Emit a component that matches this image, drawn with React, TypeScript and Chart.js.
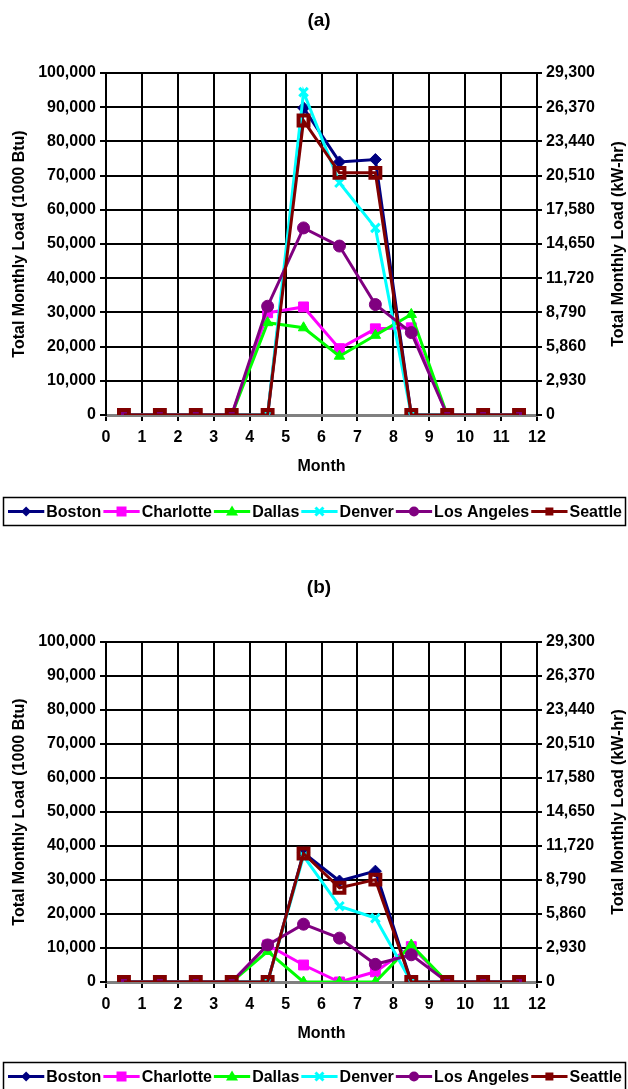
import React, { useEffect, useRef } from 'react';
import { Chart, registerables } from 'chart.js';

Chart.register(...registerables);

// ---------- data ----------
const monthPositions = [0.5, 1.5, 2.5, 3.5, 4.5, 5.5, 6.5, 7.5, 8.5, 9.5, 10.5, 11.5];
const monthTicks = [0, 1, 2, 3, 4, 5, 6, 7, 8, 9, 10, 11, 12];
const leftTicks = [0, 10000, 20000, 30000, 40000, 50000, 60000, 70000, 80000, 90000, 100000];
const rightTicks = [0, 2930, 5860, 8790, 11720, 14650, 17580, 20510, 23440, 26370, 29300];

const seriesNames = ['Boston', 'Charlotte', 'Dallas', 'Denver', 'Los Angeles', 'Seattle'];
const seriesColors = ['#000080', '#FF00FF', '#00FF00', '#00FFFF', '#800080', '#800000'];
const seriesMarkers = ['rectRot', 'rect', 'triangle', 'crossRot', 'circle', 'rectHollow'];

// Chart (a)
const bostonA = [0, 0, 0, 0, 0, 89800, 74000, 74700, 0, 0, 0, 0];
const charlotteA = [0, 0, 0, 0, 29900, 31600, 19400, 25200, 25500, 0, 0, 0];
const dallasA = [0, 0, 0, 0, 27000, 25500, 17200, 23300, 29400, 0, 0, 0];
const denverA = [0, 0, 0, 0, 0, 94400, 67900, 54700, 0, 0, 0, 0];
const losAngelesA = [0, 0, 0, 0, 31800, 54700, 49400, 32300, 24100, 0, 0, 0];
const seattleA = [0, 0, 0, 0, 0, 86100, 70800, 70800, 0, 0, 0, 0];

// Chart (b)
const bostonB = [0, 0, 0, 0, 0, 38000, 29700, 32600, 0, 0, 0, 0];
const charlotteB = [0, 0, 0, 0, 10900, 5000, 0, 3000, 10400, 0, 0, 0];
const dallasB = [0, 0, 0, 0, 9000, 0, 0, 0, 10900, 0, 0, 0];
const denverB = [0, 0, 0, 0, 0, 37000, 22300, 18800, 0, 0, 0, 0];
const losAngelesB = [0, 0, 0, 0, 10900, 17000, 12900, 5200, 8000, 0, 0, 0];
const seattleB = [0, 0, 0, 0, 0, 37800, 27700, 30100, 0, 0, 0, 0];

const seriesA = [bostonA, charlotteA, dallasA, denverA, losAngelesA, seattleA];
const seriesB = [bostonB, charlotteB, dallasB, denverB, losAngelesB, seattleB];

const titleA = '(a)';
const titleB = '(b)';
const xTitle = 'Month';
const yTitle = 'Total Monthly Load (1000 Btu)';
const y2Title = 'Total Monthly Load (kW-hr)';

const FONT = '"Liberation Sans", Arial, Helvetica, sans-serif';

// ---------- helpers ----------
function fmt(v: number) {
  return Math.round(v).toLocaleString('en-US');
}

function drawMarker(ctx: CanvasRenderingContext2D, style: string, x: number, y: number, color: string) {
  ctx.save();
  ctx.fillStyle = color;
  ctx.strokeStyle = color;
  ctx.lineWidth = 3;
  ctx.beginPath();
  if (style === 'rectRot') {
    const r = 5;
    ctx.moveTo(x - r, y);
    ctx.lineTo(x, y - r);
    ctx.lineTo(x + r, y);
    ctx.lineTo(x, y + r);
    ctx.closePath();
    ctx.fill();
  } else if (style === 'rect') {
    ctx.rect(x - 5, y - 5, 10, 10);
    ctx.fill();
  } else if (style === 'triangle') {
    ctx.moveTo(x - 6, y + 4);
    ctx.lineTo(x, y - 6);
    ctx.lineTo(x + 6, y + 4);
    ctx.closePath();
    ctx.fill();
  } else if (style === 'crossRot') {
    const r = 4;
    ctx.moveTo(x - r, y - r);
    ctx.lineTo(x + r, y + r);
    ctx.moveTo(x + r, y - r);
    ctx.lineTo(x - r, y + r);
    ctx.stroke();
  } else if (style === 'circle') {
    ctx.arc(x, y, 5, 0, Math.PI * 2);
    ctx.fill();
  } else {
    ctx.rect(x - 4, y - 4, 8, 8);
    ctx.fill();
  }
  ctx.restore();
}

function makePlugin(title: string, legendTop: number, legendHeight: number) {
  return {
    id: 'customText',
    afterDraw(chart: any) {
      const ctx: CanvasRenderingContext2D = chart.ctx;
      const area = chart.chartArea;
      const W = chart.width;
      ctx.save();
      ctx.fillStyle = '#000';
      ctx.textBaseline = 'middle';
      ctx.textAlign = 'center';
      // title
      ctx.font = `bold 19px ${FONT}`;
      ctx.fillText(title, 319, 21);
      // x title
      ctx.font = `bold 16px ${FONT}`;
      ctx.fillText(xTitle, (area.left + area.right) / 2, 467);
      // y titles
      const midY = (area.top + area.bottom) / 2;
      ctx.save();
      ctx.translate(20, midY);
      ctx.rotate(-Math.PI / 2);
      ctx.fillText(yTitle, 0, 0);
      ctx.restore();
      ctx.save();
      ctx.translate(619, midY);
      ctx.rotate(-Math.PI / 2);
      ctx.fillText(y2Title, 0, 0);
      ctx.restore();

      // legend
      const bx = 3, bw = W - 6;
      ctx.lineWidth = 1.5;
      ctx.strokeStyle = '#000';
      ctx.strokeRect(bx + 0.5, legendTop + 0.5, bw, legendHeight);
      ctx.font = `bold 16px ${FONT}`;
      ctx.textAlign = 'left';
      const widths = seriesNames.map((n) => ctx.measureText(n).width);
      const totalText = widths.reduce((a, b) => a + b, 0);
      const startX = 8;
      const avail = W - 4 - startX;
      const extra = (avail - totalText) / seriesNames.length;
      const lineLen = extra - 4;
      const ly = legendTop + legendHeight / 2 + 0.5;
      let x = startX;
      seriesNames.forEach((name, i) => {
        ctx.strokeStyle = seriesColors[i];
        ctx.lineWidth = 3;
        ctx.beginPath();
        ctx.moveTo(x, ly);
        ctx.lineTo(x + lineLen, ly);
        ctx.stroke();
        drawMarker(ctx, seriesMarkers[i], x + lineLen / 2, ly, seriesColors[i]);
        ctx.fillStyle = '#000';
        ctx.fillText(name, x + lineLen + 2, ly + 1);
        x += lineLen + 4 + widths[i];
      });
      ctx.restore();
    },
  };
}

function buildDatasets(series: number[][]) {
  return series.map((vals, i) => {
    const marker = seriesMarkers[i];
    const hollow = marker === 'rectHollow';
    const style = hollow ? 'rect' : marker;
    let radius = 6;
    if (style === 'rect') radius = 7;
    if (style === 'triangle') radius = 6;
    if (style === 'crossRot') radius = 6;
    return {
      label: seriesNames[i],
      data: monthPositions.map((m, j) => ({ x: m, y: vals[j] })),
      borderColor: seriesColors[i],
      backgroundColor: hollow ? 'rgba(0,0,0,0)' : seriesColors[i],
      pointBackgroundColor: hollow ? 'rgba(0,0,0,0)' : seriesColors[i],
      pointBorderColor: seriesColors[i],
      pointBorderWidth: hollow ? 4 : style === 'crossRot' ? 3 : 1,
      pointStyle: style,
      pointRadius: radius,
      borderWidth: 3,
      tension: 0,
      fill: false,
      order: seriesNames.length - i,
      yAxisID: 'y',
    };
  });
}

function makeConfig(series: number[][], title: string, topPad: number, xHeight: number, legendTop: number, legendHeight: number): any {
  const tickFont = { family: FONT, size: 16, weight: 'bold' as const };
  return {
    type: 'line',
    data: { datasets: buildDatasets(series) },
    options: {
      responsive: false,
      animation: false,
      devicePixelRatio: 1,
      layout: { padding: { top: topPad, left: 0, right: 0, bottom: 0 } },
      plugins: { legend: { display: false }, title: { display: false }, tooltip: { enabled: false } },
      scales: {
        x: {
          type: 'linear',
          min: 0,
          max: 12,
          afterBuildTicks: (s: any) => { s.ticks = monthTicks.map((v) => ({ value: v })); },
          afterFit: (s: any) => { s.height = xHeight; },
          ticks: { font: tickFont, color: '#000', padding: 7, maxRotation: 0, autoSkip: false, callback: (v: number) => String(v) },
          grid: { color: '#000', lineWidth: 2, tickLength: 6 },
          border: { color: '#808080', width: 3 },
        },
        y: {
          position: 'left',
          min: 0,
          max: 100000,
          afterBuildTicks: (s: any) => { s.ticks = leftTicks.map((v) => ({ value: v })); },
          afterFit: (s: any) => { s.width = 106; },
          ticks: { font: tickFont, color: '#000', padding: 4, callback: (v: number) => fmt(v) },
          grid: { color: '#000', lineWidth: 2, tickLength: 6 },
          border: { color: '#000', width: 2 },
        },
        y2: {
          position: 'right',
          min: 0,
          max: 29300,
          afterBuildTicks: (s: any) => { s.ticks = rightTicks.map((v) => ({ value: v })); },
          afterFit: (s: any) => { s.width = 91; },
          ticks: { font: tickFont, color: '#000', padding: 4, callback: (v: number) => fmt(v) },
          grid: { drawOnChartArea: false, color: '#000', lineWidth: 2, tickLength: 5 },
          border: { color: '#000', width: 2 },
        },
      },
    },
    plugins: [makePlugin(title, legendTop, legendHeight)],
  };
}

function ChartCanvas(props: { series: number[][]; title: string; height: number; topPad: number; xHeight: number; legendTop: number; legendHeight: number }) {
  const ref = useRef<HTMLCanvasElement | null>(null);
  useEffect(() => {
    if (!ref.current) return;
    const chart = new Chart(ref.current, makeConfig(props.series, props.title, props.topPad, props.xHeight, props.legendTop, props.legendHeight));
    return () => chart.destroy();
  }, []);
  return <canvas ref={ref} width={628} height={props.height} style={{ display: 'block', width: 628, height: props.height }} />;
}

export default function App() {
  useEffect(() => {
    document.body.style.margin = '0';
    document.body.style.background = '#fff';
  }, []);
  return (
    <div style={{ width: 628, height: 1089, overflow: 'hidden', background: '#fff' }}>
      <ChartCanvas series={seriesA} title={titleA} height={567} topPad={73} xHeight={152} legendTop={497} legendHeight={28} />
      <ChartCanvas series={seriesB} title={titleB} height={522} topPad={75} xHeight={107} legendTop={495} legendHeight={28} />
    </div>
  );
}
